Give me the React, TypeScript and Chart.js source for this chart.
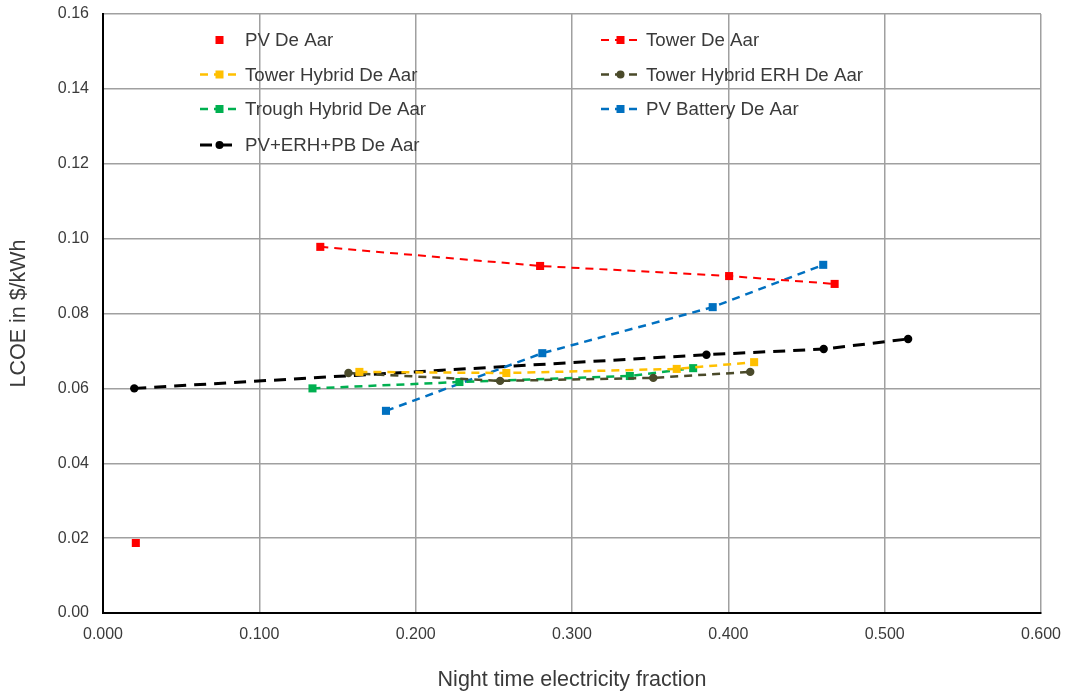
import React, { useEffect, useRef } from "react";
import { Chart, registerables } from "chart.js";

Chart.register(...registerables);

const pvX = [0.021];
const pvY = [0.0187];
const towerX = [0.139, 0.2796, 0.4005, 0.468];
const towerY = [0.0978, 0.0927, 0.09, 0.0879];
const towerHybX = [0.164, 0.258, 0.367, 0.4165];
const towerHybY = [0.0644, 0.0641, 0.0652, 0.067];
const towerErhX = [0.157, 0.254, 0.352, 0.414];
const towerErhY = [0.0641, 0.062, 0.0628, 0.0644];
const troughX = [0.134, 0.228, 0.337, 0.3775];
const troughY = [0.06, 0.0617, 0.0633, 0.0654];
const pvBatX = [0.181, 0.281, 0.39, 0.4607];
const pvBatY = [0.054, 0.0694, 0.0817, 0.093];
const pvErhX = [0.02, 0.386, 0.461, 0.515];
const pvErhY = [0.06, 0.069, 0.0705, 0.0732];

const xTicks = [0, 0.1, 0.2, 0.3, 0.4, 0.5, 0.6];
const yTicks = [0, 0.02, 0.04, 0.06, 0.08, 0.1, 0.12, 0.14, 0.16];

const pts = (xs: number[], ys: number[]) => xs.map((x, i) => ({ x, y: ys[i] }));

const FONT = "'Liberation Sans', Arial, sans-serif";
const TEXT = "#3A3A3A";

const seriesDefs = [
  { label: "PV De Aar", x: pvX, y: pvY, color: "#FF0000", style: "rect", line: false, dash: [8, 5], width: 2 },
  { label: "Tower De Aar", x: towerX, y: towerY, color: "#FF0000", style: "rect", line: true, dash: [8, 6], width: 2 },
  { label: "Tower Hybrid De Aar", x: towerHybX, y: towerHybY, color: "#FFC000", style: "rect", line: true, dash: [8, 6], width: 2.5 },
  { label: "Tower Hybrid ERH De Aar", x: towerErhX, y: towerErhY, color: "#4A4A2A", style: "circle", line: true, dash: [8, 6], width: 2.5 },
  { label: "Trough Hybrid De Aar", x: troughX, y: troughY, color: "#00B050", style: "rect", line: true, dash: [8, 6], width: 2.5 },
  { label: "PV Battery De Aar", x: pvBatX, y: pvBatY, color: "#0070C0", style: "rect", line: true, dash: [8, 6], width: 2.5 },
  { label: "PV+ERH+PB De Aar", x: pvErhX, y: pvErhY, color: "#000000", style: "circle", line: true, dash: [12, 8], width: 3 },
];

const legendPlugin = {
  id: "overlayLegend",
  afterDatasetsDraw(chart: any) {
    const ctx = chart.ctx;
    ctx.save();
    const colX = [200, 601];
    const rowY = [40, 74.5, 109, 145];
    seriesDefs.forEach((s, i) => {
      const cx = colX[i % 2];
      const cy = rowY[Math.floor(i / 2)];
      if (s.line) {
        ctx.strokeStyle = s.color;
        ctx.lineWidth = s.width;
        ctx.setLineDash(s.dash);
        ctx.beginPath();
        ctx.moveTo(cx, cy);
        ctx.lineTo(cx + 39, cy);
        ctx.stroke();
        ctx.setLineDash([]);
      }
      ctx.fillStyle = s.color;
      if (s.style === "rect") {
        ctx.fillRect(cx + 19.5 - 4, cy - 4, 8, 8);
      } else {
        ctx.beginPath();
        ctx.arc(cx + 19.5, cy, 4, 0, Math.PI * 2);
        ctx.fill();
      }
      ctx.fillStyle = TEXT;
      ctx.font = `18.7px ${FONT}`;
      ctx.textBaseline = "middle";
      ctx.textAlign = "left";
      ctx.fillText(s.label, cx + 45, cy + 1);
    });
    ctx.restore();
  },
};

export default function App() {
  const ref = useRef<HTMLCanvasElement>(null);
  useEffect(() => {
    if (!ref.current) return;
    const chart = new Chart(ref.current, {
      type: "scatter",
      data: {
        datasets: seriesDefs.map((s) => ({
          label: s.label,
          data: pts(s.x, s.y),
          showLine: s.line,
          borderColor: s.color,
          backgroundColor: s.color,
          borderWidth: s.width,
          borderDash: s.dash,
          pointStyle: s.style as any,
          pointRadius: s.style === "rect" ? 5.7 : 4.2,
          pointBorderWidth: 0,
          pointBackgroundColor: s.color,
          tension: 0,
        })),
      },
      options: {
        animation: false,
        responsive: false,
        maintainAspectRatio: false,
        layout: { padding: { left: 0, right: 31, top: 14, bottom: 0 } },
        plugins: { legend: { display: false }, tooltip: { enabled: false } },
        scales: {
          x: {
            type: "linear",
            min: 0,
            max: 0.6,
            afterBuildTicks: (axis: any) => {
              axis.ticks = xTicks.map((v) => ({ value: v }));
            },
            afterFit: (axis: any) => {
              axis.height = 80;
              axis.paddingRight = 0;
              axis.paddingLeft = 0;
            },
            grid: { color: "#A0A0A0", lineWidth: 1.5, drawTicks: false },
            border: { color: "#000000", width: 2 },
            ticks: {
              color: TEXT,
              font: { family: FONT, size: 16 },
              padding: 12,
              callback: (v: any) => Number(v).toFixed(3),
            },
            title: {
              display: true,
              text: "Night time electricity fraction",
              color: TEXT,
              font: { family: FONT, size: 21.5 },
              padding: { top: 14, bottom: 0 },
            },
          },
          y: {
            type: "linear",
            min: 0,
            max: 0.16,
            afterBuildTicks: (axis: any) => {
              axis.ticks = yTicks.map((v) => ({ value: v }));
            },
            afterFit: (axis: any) => {
              axis.width = 103;
              axis.paddingTop = 0;
              axis.paddingBottom = 0;
            },
            grid: { color: "#A0A0A0", lineWidth: 1.5, drawTicks: false },
            border: { color: "#000000", width: 2 },
            ticks: {
              color: TEXT,
              font: { family: FONT, size: 16 },
              padding: 14,
              callback: (v: any) => Number(v).toFixed(2),
            },
            title: {
              display: true,
              text: "LCOE in $/kWh",
              color: TEXT,
              font: { family: FONT, size: 21.5 },
              padding: { top: 6, bottom: 0 },
            },
          },
        },
      },
      plugins: [legendPlugin],
    });
    return () => chart.destroy();
  }, []);
  return (
    <div style={{ position: "absolute", left: 0, top: 0, width: 1072, height: 693, background: "#fff" }}>
      <canvas ref={ref} width={1072} height={693} style={{ width: 1072, height: 693 }} />
    </div>
  );
}
